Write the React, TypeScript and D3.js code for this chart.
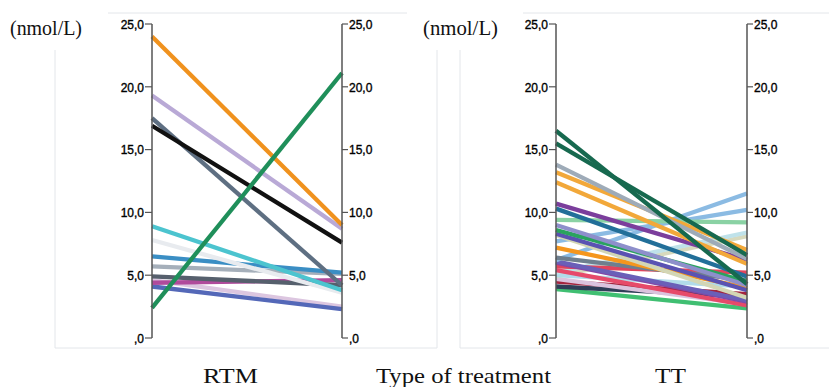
import * as d3 from 'd3';

// RTM group: values before / after (nmol/L)
const rtmPre = [4.6, 4.1, 4.4, 4.9, 5.7, 6.5, 7.8, 8.9, 17.5, 19.3, 16.9, 24.0, 2.4];
const rtmPost = [2.5, 2.3, 4.6, 4.2, 5.1, 5.2, 3.6, 3.8, 4.2, 8.7, 7.6, 9.0, 21.1];
const rtmColors = [
  '#dcc6e0', '#5468b8', '#b04a9c', '#56606d', '#a5afba', '#3a8ec4', '#e8ebef',
  '#4cc4cf', '#5e6f82', '#b9a9d6', '#111111', '#f0921e', '#1f8f5a',
];

// TT group
const ttPre = [
  3.9, 4.1, 4.5, 4.7, 4.9, 5.0, 5.2, 5.4, 5.7, 6.0, 6.1, 6.2, 6.4, 7.2,
  7.7, 8.2, 8.3, 8.6, 9.0, 9.4, 10.3, 10.7, 12.4, 13.2, 13.8, 15.5, 16.5,
];
const ttPost = [
  2.35, 3.3, 3.5, 2.7, 8.1, 4.1, 8.4, 2.6, 5.2, 2.9, 3.0, 11.5, 4.6, 4.0,
  10.2, 3.2, 3.8, 4.5, 4.2, 9.2, 4.9, 6.2, 5.9, 7.0, 6.3, 6.6, 4.3,
];
const ttColors = [
  '#40bf72', '#2f3e58', '#a3253f', '#dbc3de', '#d7d9bd', '#b1dbea', '#bfe2ea',
  '#e64a6a', '#e0445c', '#8248a8', '#6a5fb8', '#8bbbe3', '#6e7f8e', '#f5961d',
  '#8bbbe3', '#d3d6b5', '#5a52b2', '#2aa35e', '#8e8fcb', '#8ad2a4', '#226f99',
  '#7b3e9c', '#f2a83a', '#f2a83a', '#9eabb8', '#17694f', '#17694f',
];

const yTicks = [0, 5, 10, 15, 20, 25];
const fmt = (v: number) => (v === 0 ? ',0' : d3.format('.1f')(v).replace('.', ','));

const W = 829;
const H = 387;
const y = d3.scaleLinear().domain([0, 25]).range([338, 24]);

type Pt = [number, number];

const sans = "'Liberation Sans', Arial, sans-serif";
const serif = "'Liberation Serif', 'Times New Roman', serif";

function Panel({ x0, x1, pre, post, colors }: { x0: number; x1: number; pre: number[]; post: number[]; colors: string[] }) {
  const x = d3.scalePoint<string>().domain(['pre', 'post']).range([x0, x1]);
  const line = d3.line<Pt>().x((d) => d[0]).y((d) => y(d[1]));
  const axisColor = '#555';
  return (
    <g>
      {pre.map((v, i) => (
        <path
          key={i}
          d={line([[x('pre')!, v], [x('post')!, post[i]]]) ?? ''}
          stroke={colors[i]}
          strokeWidth={4.3}
          fill="none"
        />
      ))}
      <line x1={x0} x2={x0} y1={y(0)} y2={y(25)} stroke={axisColor} strokeWidth={1.5} />
      <line x1={x1} x2={x1} y1={y(0)} y2={y(25)} stroke={axisColor} strokeWidth={1.5} />
      {yTicks.map((t) => (
        <g key={t}>
          <line x1={x0 - 7} x2={x0} y1={y(t)} y2={y(t)} stroke={axisColor} strokeWidth={1.2} />
          <text x={x0 - 8} y={y(t)} dy="0.4em" textAnchor="end" fontSize={12} fill="#000"
            stroke="#000" strokeWidth={0.35} fontFamily={sans}>{fmt(t)}</text>
          <line x1={x1} x2={x1 + 6} y1={y(t)} y2={y(t)} stroke={axisColor} strokeWidth={1.2} />
          <text x={x1 + 7} y={y(t)} dy="0.4em" textAnchor="start" fontSize={12} fill="#000"
            stroke="#000" strokeWidth={0.35} fontFamily={sans}>{fmt(t)}</text>
        </g>
      ))}
    </g>
  );
}

export default function App() {
  const frame = '#e3e6ea';
  return (
    <svg width={W} height={H} style={{ position: 'absolute', left: 0, top: 0, background: '#fff' }}>
      {/* faint panel frames */}
      <line x1={108} x2={407} y1={13} y2={13} stroke={frame} />
      <line x1={523} x2={829} y1={13} y2={13} stroke={frame} />
      <line x1={55} x2={437} y1={348} y2={348} stroke={frame} />
      <line x1={460} x2={829} y1={348} y2={348} stroke={frame} />
      <line x1={55} x2={55} y1={50} y2={348} stroke={frame} />
      <line x1={437} x2={437} y1={50} y2={348} stroke={frame} />
      <line x1={460} x2={460} y1={50} y2={348} stroke={frame} />

      <Panel x0={152} x1={342} pre={rtmPre} post={rtmPost} colors={rtmColors} />
      <Panel x0={556} x1={747} pre={ttPre} post={ttPost} colors={ttColors} />

      <text x={10} y={35} fontSize={20} fontFamily={serif} textLength={72} lengthAdjust="spacingAndGlyphs" fill="#111">(nmol/L)</text>
      <text x={423} y={35} fontSize={20} fontFamily={serif} textLength={75} lengthAdjust="spacingAndGlyphs" fill="#111">(nmol/L)</text>

      <text x={203} y={383} fontSize={22} fontFamily={serif} textLength={55} lengthAdjust="spacingAndGlyphs" fill="#111">RTM</text>
      <text x={376} y={383} fontSize={22} fontFamily={serif} textLength={175} lengthAdjust="spacingAndGlyphs" fill="#111">Type of treatment</text>
      <text x={655} y={383} fontSize={22} fontFamily={serif} textLength={31} lengthAdjust="spacingAndGlyphs" fill="#111">TT</text>
    </svg>
  );
}
